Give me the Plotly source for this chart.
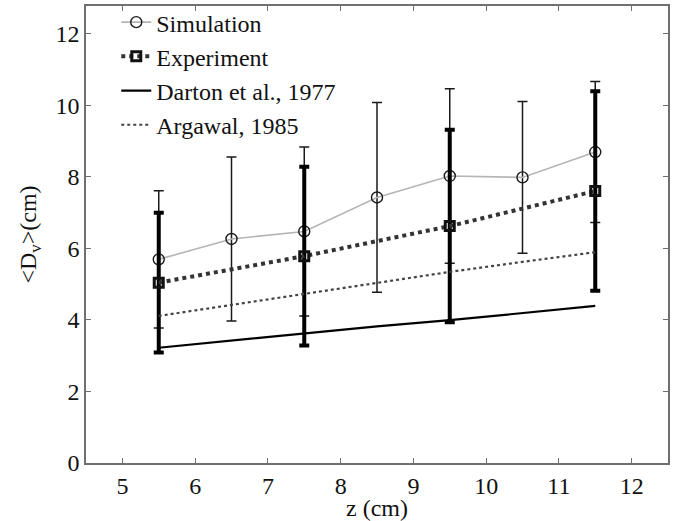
import plotly.graph_objects as go

# Bubble diameter along the bed height
z_sim = [5.5, 6.5, 7.5, 8.5, 9.5, 10.5, 11.5]
d_sim = [5.69, 6.26, 6.47, 7.42, 8.02, 7.98, 8.69]
err_sim = [1.92, 2.29, 2.36, 2.65, 2.44, 2.12, 1.97]

z_exp = [5.5, 7.5, 9.5, 11.5]
d_exp = [5.04, 5.78, 6.62, 7.60]
err_exp = [1.95, 2.50, 2.69, 2.79]

z_corr = [5.5, 6.5, 7.5, 8.5, 9.5, 10.5, 11.5]
d_darton = [3.22, 3.42, 3.62, 3.82, 3.99, 4.20, 4.39]
d_argawal = [4.11, 4.42, 4.74, 5.04, 5.34, 5.62, 5.89]

x_ticks = [5, 6, 7, 8, 9, 10, 11, 12]
y_ticks = [0, 2, 4, 6, 8, 10, 12]

FONT = "Times New Roman"
AXIS_GREY = "#707070"
TEXT = dict(family=FONT, size=24, color="#111111")

fig = go.Figure()

fig.add_trace(go.Scatter(
    x=z_sim, y=d_sim, name="Simulation", mode="lines+markers",
    line=dict(color="#b5b5b5", width=1.6),
    marker=dict(symbol="circle-open", size=11, color="#1a1a1a", line=dict(width=1.4)),
    error_y=dict(type="data", array=err_sim, visible=True,
                 color="#1a1a1a", thickness=1.5, width=5),
))

fig.add_trace(go.Scatter(
    x=z_exp, y=d_exp, name="Experiment", mode="lines+markers",
    line=dict(color="#333333", width=4, dash="dot"),
    marker=dict(symbol="square-open", size=9, color="#111111", line=dict(width=3)),
    error_y=dict(type="data", array=err_exp, visible=True,
                 color="#000000", thickness=4, width=5),
))

fig.add_trace(go.Scatter(
    x=z_corr, y=d_darton, name="Darton et al., 1977", mode="lines",
    line=dict(color="#000000", width=2.2),
))

fig.add_trace(go.Scatter(
    x=z_corr, y=d_argawal, name="Argawal, 1985", mode="lines",
    line=dict(color="#444444", width=2.2, dash="dot"),
))

axis_common = dict(
    showline=True, linecolor=AXIS_GREY, linewidth=1.5, mirror="ticks",
    ticks="inside", ticklen=5, tickwidth=1.2, tickcolor=AXIS_GREY,
    showgrid=False, zeroline=False,
    tickfont=TEXT,
)

fig.update_xaxes(
    range=[4.5, 12.5], tickvals=x_ticks, ticktext=[str(v) for v in x_ticks],
    title=dict(text="z (cm)", font=TEXT, standoff=2),
    **axis_common,
)
fig.update_yaxes(
    range=[0, 12.77], tickvals=y_ticks, ticktext=[str(v) for v in y_ticks],
    title=dict(text="&lt;D<sub>v</sub>&gt;(cm)", font=TEXT, standoff=12),
    **axis_common,
)

fig.update_layout(
    width=678, height=521,
    margin=dict(l=86, r=10, t=6, b=58, autoexpand=False),
    plot_bgcolor="white", paper_bgcolor="white",
    font=TEXT,
    showlegend=True,
    legend=dict(x=0.052, y=1.013, xanchor="left", yanchor="top",
                bgcolor="rgba(0,0,0,0)", borderwidth=0,
                font=TEXT, tracegroupgap=0),
)

fig.write_html("out.html")
